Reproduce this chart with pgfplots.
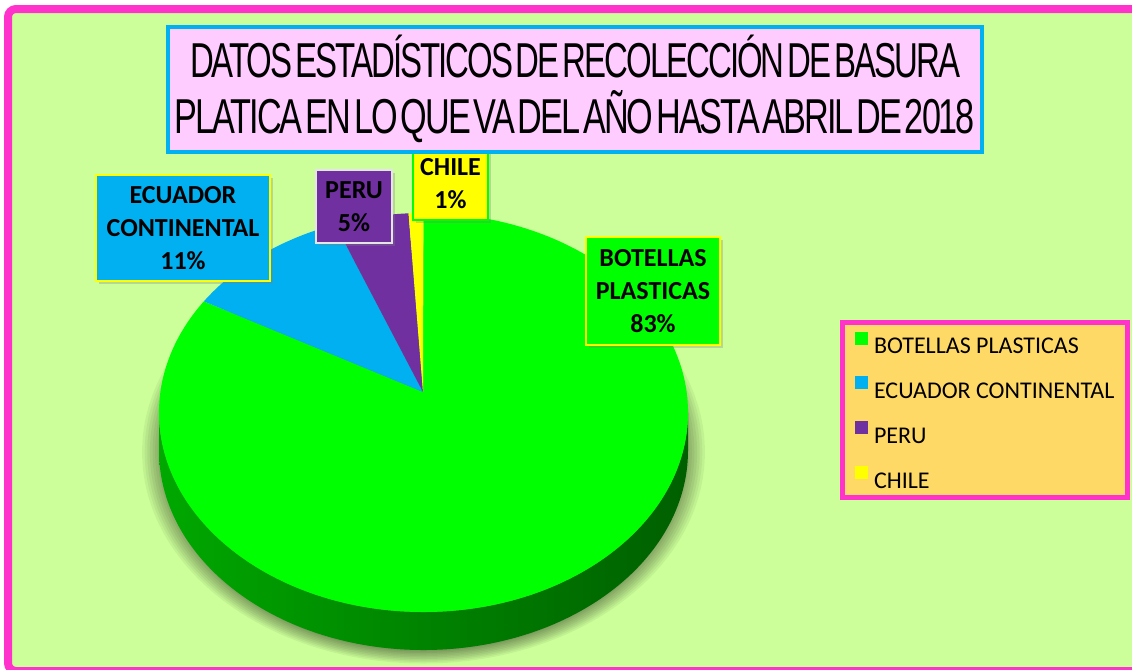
\documentclass[border=0pt]{standalone}
\usepackage{pgfplots}
\pgfplotsset{compat=1.18}
\usepackage{pgfplotstable}
\usepackage{graphicx}
\usepackage{fontspec}
\usetikzlibrary{shadows}
\setmainfont{Carlito}
\newfontfamily\titlefont[LetterSpace=-6,WordSpace=0.4]{Liberation Sans}

\definecolor{bgGreen}{HTML}{CCFF99}
\definecolor{frameMag}{HTML}{FF33CC}
\definecolor{cGreen}{HTML}{00FF00}
\definecolor{cBlue}{HTML}{00B0F0}
\definecolor{cPurple}{HTML}{7030A0}
\definecolor{cYellow}{HTML}{FFFF00}
\definecolor{titleFill}{HTML}{FFCCFF}
\definecolor{legFill}{HTML}{FFD966}
\definecolor{sideLight}{HTML}{00A800}
\definecolor{sideDark}{HTML}{005F00}

\pgfplotstableread[col sep=comma]{
label,value
BOTELLAS PLASTICAS,83
ECUADOR CONTINENTAL,11
PERU,5
CHILE,1
}\piedata

% perspective projection of a data angle onto the ellipse parameter
\newcommand\projangle[2]{%
  \pgfmathsetmacro\tmpden{1+0.1028*sin(#1)}%
  \pgfmathsetmacro\tmpX{263*cos(#1)/\tmpden}%
  \pgfmathsetmacro\tmpY{197.4*sin(#1)/\tmpden}%
  \pgfmathsetmacro\tmpT{atan2((\tmpY+20.5)/199.5,\tmpX/264.5)}%
  \pgfmathsetmacro\tmpT{\tmpT+360*round(((#1)-(\tmpT))/360)}%
  \global\let#2\tmpT}

\newcommand\slice[2]{%
  \edef\tmpslice{\noexpand\fill[#2] (axis cs:423,392) -- (axis cs:\csname px#1\endcsname,\csname py#1\endcsname) arc[start angle=\csname pa#1\endcsname,end angle=\csname pb#1\endcsname,x radius=132.25pt,y radius=99.75pt] -- cycle;}%
  \tmpslice}

\tikzset{lbl/.style={inner sep=0pt, align=center, text=black,
  font=\bfseries\fontsize{13}{16.5}\selectfont, line width=1pt,
  drop shadow={shadow xshift=1.5pt,shadow yshift=-1.5pt,opacity=0.3}}}

\begin{document}
\begin{tikzpicture}
\def\cum{0}
\pgfplotsforeachungrouped \i in {0,1,2,3}{%
  \pgfplotstablegetelem{\i}{value}\of\piedata
  \let\v\pgfplotsretval
  \pgfmathsetmacro\ta{90-3.6*\cum}%
  \pgfmathsetmacro\cum{\cum+\v}%
  \pgfmathsetmacro\tb{90-3.6*\cum}%
  \projangle{\ta}\resA
  \projangle{\tb}\resB
  \expandafter\xdef\csname pa\i\endcsname{\resA}%
  \expandafter\xdef\csname pb\i\endcsname{\resB}%
  \pgfmathsetmacro\pxx{423.5+264.5*cos(\resA)}%
  \pgfmathsetmacro\pyy{412.5-199.5*sin(\resA)}%
  \expandafter\xdef\csname px\i\endcsname{\pxx}%
  \expandafter\xdef\csname py\i\endcsname{\pyy}%
}
\begin{axis}[
  scale only axis, width=566pt, height=334.5pt,
  xmin=0, xmax=1132, ymin=0, ymax=669, y dir=reverse,
  hide axis, clip=true,
  legend style={at={(axis cs:839.5,320)}, anchor=north west,
    fill=legFill, draw=frameMag, line width=2.5pt,
    inner xsep=6.5pt, inner ysep=4.5pt, row sep=11.4pt, column sep=3pt,
    font=\fontsize{12}{14}\selectfont,
    nodes={inner sep=0pt, text height=8.5pt, text depth=0pt}},
  legend cell align=left,
  legend image code/.code={\fill[#1,draw=none] (0pt,0.3pt) rectangle (6.5pt,6.8pt);},
]
% background and frame
\fill[white] (axis cs:0,0) rectangle (axis cs:1132,669);
\draw[frameMag, line width=4pt, fill=bgGreen, rounded corners=4pt] (axis cs:8,9) rectangle (axis cs:1150,671);
% soft shadow of the pie
\pgfplotsinvokeforeach{0,...,9}{
  \fill[black, opacity=0.05] (axis cs:423.5,452) ellipse[x radius={(129+1.3*#1)*1pt}, y radius={(99+0.75*#1)*1pt}];
}
% side of the pie
\shade[left color=sideLight, middle color=sideDark, right color=sideDark]
  (axis cs:159,412.5) arc[start angle=180,end angle=360,x radius=132.25pt,y radius=99.75pt]
  -- (axis cs:688,450.5) arc[start angle=0,end angle=-180,x radius=132.25pt,y radius=99.75pt] -- cycle;
% slices
\slice{0}{cGreen}
\slice{1}{cBlue}
\slice{2}{cPurple}
\slice{3}{cYellow}
% data labels
\node[lbl, fill=cBlue, draw=cYellow, minimum width=87pt, minimum height=53pt] at (axis cs:183,228) {ECUADOR\\CONTINENTAL\\11\%};
\node[lbl, fill=cPurple, draw=white!90!black, minimum width=38pt, minimum height=36.5pt] at (axis cs:354,206.5) {PERU\\5\%};
\node[lbl, fill=cYellow, draw=cGreen, minimum width=37.5pt, minimum height=36pt] at (axis cs:450.5,184) {CHILE\\1\%};
\node[lbl, fill=cGreen, draw=cYellow, minimum width=67pt, minimum height=54pt] at (axis cs:653,291) {BOTELLAS\\PLASTICAS\\83\%};
% title
\node[draw=cBlue, line width=2pt, fill=titleFill, minimum width=407pt, minimum height=62.5pt, inner sep=0pt, align=center, font=\titlefont\fontsize{24.5}{28}\selectfont] at (axis cs:575,89)
 {\resizebox{385pt}{\height}{DATOS ESTADÍSTICOS DE RECOLECCIÓN DE BASURA}\\\resizebox{400pt}{\height}{PLATICA EN LO QUE VA DEL AÑO HASTA ABRIL DE 2018}};
% legend
\addlegendimage{fill=cGreen}\addlegendentry{BOTELLAS PLASTICAS}
\addlegendimage{fill=cBlue}\addlegendentry{ECUADOR CONTINENTAL}
\addlegendimage{fill=cPurple}\addlegendentry{PERU}
\addlegendimage{fill=cYellow}\addlegendentry{CHILE}
\coordinate (BL) at (axis cs:0,669);
\coordinate (TR) at (axis cs:1132,0);
\end{axis}
\pgfresetboundingbox
\useasboundingbox (BL) rectangle (TR);
\end{tikzpicture}
\end{document}
